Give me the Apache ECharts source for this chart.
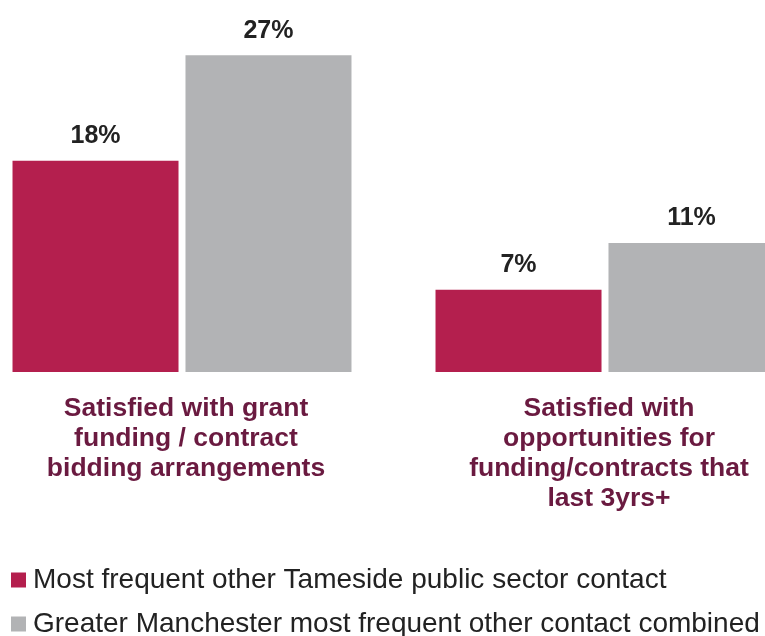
<!DOCTYPE html>
<html>
<head>
<meta charset="utf-8">
<script src="https://cdn.jsdelivr.net/npm/echarts@6/dist/echarts.min.js"></script>
<style>
  html, body { margin: 0; padding: 0; background: #fff; }
  #chart { width: 765px; height: 636px; }
</style>
</head>
<body>
<div id="chart"></div>
<script>
// categories and series values (percent)
var categories = [
  "Satisfied with grant\nfunding / contract\nbidding arrangements",
  "Satisfied with\nopportunities for\nfunding/contracts that\nlast 3yrs+"
];
var seriesNames = [
  "Most frequent other Tameside public sector contact",
  "Greater Manchester most frequent other contact combined"
];
var tamesideValues = [18, 7];
var gmValues = [27, 11];

var colors = ["#b41f4e", "#b2b3b5"];
var fontFamily = "'Liberation Sans', Arial, sans-serif";

var chart = echarts.init(document.getElementById("chart"));

var barLabel = {
  show: true,
  position: "top",
  distance: 12,
  formatter: "{c}%",
  fontFamily: fontFamily,
  fontSize: 25,
  fontWeight: "bold",
  color: "#222"
};

// one legend per row so they stack without wrapping
function legendRow(name, top) {
  return {
    left: 11,
    top: top,
    padding: 0,
    itemWidth: 15,
    itemHeight: 15,
    icon: "rect",
    textStyle: {
      fontFamily: fontFamily,
      fontSize: 28,
      lineHeight: 30,
      color: "#222",
      padding: [0, 0, 0, 2]
    },
    data: [name]
  };
}

var option = {
  animation: false,
  color: colors,
  // category centres sit on the grid edges (boundaryGap false)
  grid: {
    left: 182,
    right: 160,
    top: 20,
    height: 352
  },
  legend: [legendRow(seriesNames[0], 565), legendRow(seriesNames[1], 609)],
  xAxis: {
    type: "category",
    data: categories,
    boundaryGap: false,
    axisLine: { show: false },
    axisTick: { show: false },
    axisLabel: {
      interval: 0,
      margin: 22,
      fontFamily: fontFamily,
      fontSize: 26.5,
      fontWeight: "bold",
      lineHeight: 30,
      color: "#6a1a40",
      align: "center",
      padding: [0, 0, 0, 8]
    }
  },
  yAxis: {
    type: "value",
    min: 0,
    max: 30,
    show: false,
    splitLine: { show: false }
  },
  series: [
    {
      name: seriesNames[0],
      type: "bar",
      clip: false,
      barWidth: 166,
      barGap: "4.2%",
      data: tamesideValues,
      label: barLabel
    },
    {
      name: seriesNames[1],
      type: "bar",
      clip: false,
      barWidth: 166,
      data: gmValues,
      label: barLabel
    }
  ]
};

chart.setOption(option);
</script>
</body>
</html>
